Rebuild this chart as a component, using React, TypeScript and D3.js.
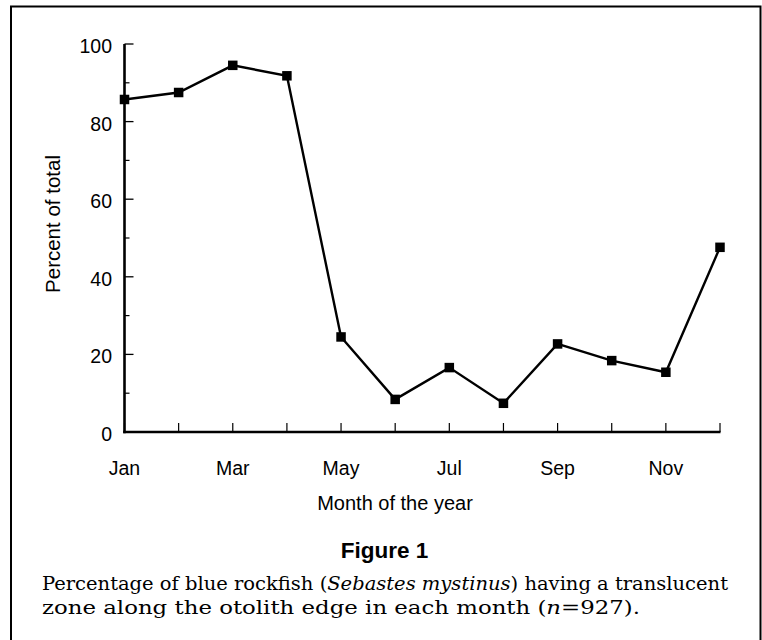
import React from "react";
import * as d3 from "d3";

const months = ["Jan", "Feb", "Mar", "Apr", "May", "Jun", "Jul", "Aug", "Sep", "Oct", "Nov", "Dec"];
const percentValues = [85.7, 87.5, 94.5, 91.8, 24.5, 8.4, 16.6, 7.4, 22.7, 18.4, 15.4, 47.6];
const yMajorTicks = [0, 20, 40, 60, 80, 100];
const yMinorTicks = [10, 30, 50, 70, 90];
const labeledMonths = ["Jan", "Mar", "May", "Jul", "Sep", "Nov"];

export default function App() {
  const W = 762;
  const H = 640;
  const x = d3.scaleLinear().domain([0, months.length - 1]).range([124.5, 720]);
  const y = d3.scaleLinear().domain([0, 100]).range([432, 44]);
  const line = d3
    .line<number>()
    .x((_, i) => x(i))
    .y((d) => y(d));
  const sans = "'Liberation Sans', Arial, Helvetica, sans-serif";
  const serif = "'DejaVu Serif', serif";
  const sq = 9.5;
  return (
    <svg width={W} height={H} style={{ position: "absolute", left: 0, top: 0, background: "#fff" }}>
      <rect x={0} y={0} width={W} height={H} fill="#fff" />
      <rect x={11} y={6.5} width={749.5} height={660} fill="none" stroke="#000" strokeWidth={2} />
      {/* y ticks */}
      {yMajorTicks.map((t) => (
        <g key={"ymj" + t}>
          <line x1={x(0)} x2={x(0) + 9} y1={y(t)} y2={y(t)} stroke="#000" strokeWidth={1.3} />
          <text x={112} y={y(t) + 2} textAnchor="end" dominantBaseline="central" fontFamily={sans} fontSize={19.5} fill="#000">
            {t}
          </text>
        </g>
      ))}
      {yMinorTicks.map((t) => (
        <line key={"ymn" + t} x1={x(0)} x2={x(0) + 5} y1={y(t)} y2={y(t)} stroke="#000" strokeWidth={1.2} />
      ))}
      {/* x ticks */}
      {months.map((m, i) => (
        <line key={"xt" + m} x1={x(i)} x2={x(i)} y1={y(0)} y2={y(0) - 9} stroke="#000" strokeWidth={1.2} />
      ))}
      {months.map((m, i) =>
        labeledMonths.includes(m) ? (
          <text key={"xl" + m} x={x(i)} y={475} textAnchor="middle" fontFamily={sans} fontSize={19.5} fill="#000">
            {m}
          </text>
        ) : null
      )}
      {/* axes */}
      <line x1={x(0)} x2={x(0)} y1={y(0) + 1.3} y2={y(100)} stroke="#000" strokeWidth={2.6} />
      <line x1={x(0) - 1.3} x2={x(11) + 0.5} y1={y(0)} y2={y(0)} stroke="#000" strokeWidth={2.6} />
      {/* data */}
      <path d={line(percentValues) || ""} fill="none" stroke="#000" strokeWidth={2.4} strokeLinejoin="miter" />
      {percentValues.map((v, i) => (
        <rect key={"pt" + i} x={x(i) - sq / 2} y={y(v) - sq / 2} width={sq} height={sq} fill="#000" />
      ))}
      {/* axis titles */}
      <text x={395} y={510} textAnchor="middle" fontFamily={sans} fontSize={20} fill="#000">
        Month of the year
      </text>
      <text
        transform={`translate(60,224) rotate(-90)`}
        textAnchor="middle"
        fontFamily={sans}
        fontSize={20.5}
        fill="#000"
      >
        Percent of total
      </text>
      {/* figure caption */}
      <text x={384.5} y={557.5} textAnchor="middle" fontFamily={sans} fontWeight="bold" fontSize={22.5} fill="#000">
        Figure 1
      </text>
      <text x={42} y={589.5} fontFamily={serif} fontSize={18.5} fill="#000" textLength={686} lengthAdjust="spacingAndGlyphs">
        Percentage of blue rockfish (<tspan fontStyle="italic">Sebastes mystinus</tspan>) having a translucent
      </text>
      <text x={42} y={613.5} fontFamily={serif} fontSize={18.5} fill="#000" textLength={598} lengthAdjust="spacingAndGlyphs">
        zone along the otolith edge in each month (<tspan fontStyle="italic">n</tspan>=927).
      </text>
    </svg>
  );
}
